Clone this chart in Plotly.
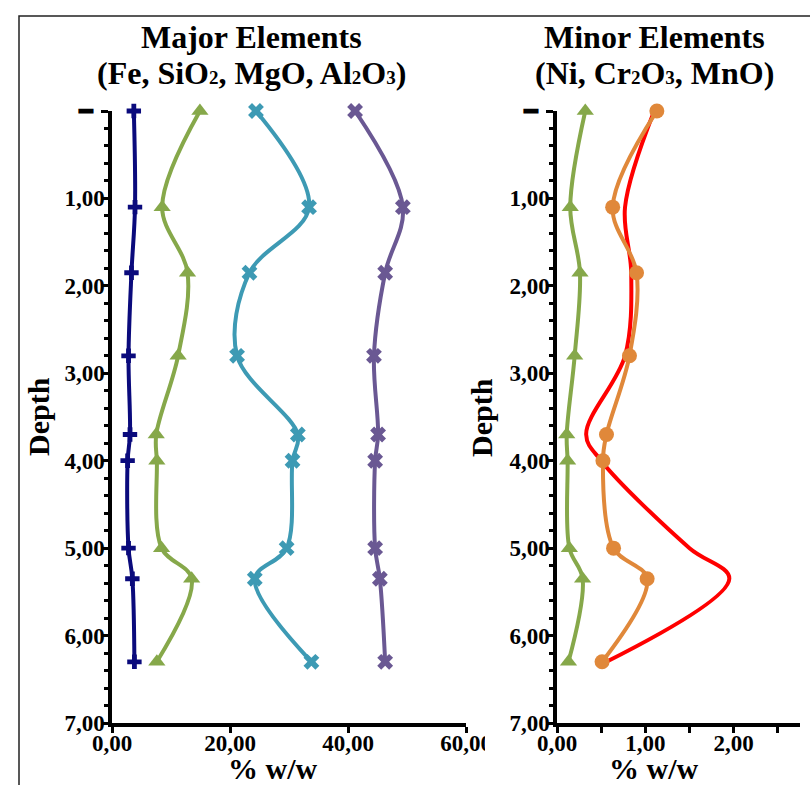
import plotly.graph_objects as go

# Sampling depths shared by every profile
depth = [0, 1.1, 1.85, 2.8, 3.7, 4.0, 5.0, 5.35, 6.3]

# Major elements (% w/w)
al2o3 = [3.7, 3.9, 3.3, 2.8, 3.05, 2.65, 2.8, 3.45, 3.8]
fe = [14.9, 8.5, 12.8, 11.2, 7.5, 7.6, 8.4, 13.5, 7.6]
mgo = [24.4, 33.4, 23.3, 21.2, 31.5, 30.6, 29.6, 24.2, 33.8]
sio2 = [41.2, 49.3, 46.3, 44.4, 45.1, 44.6, 44.6, 45.4, 46.3]

# Minor elements (% w/w)
mno = [0.32, 0.15, 0.26, 0.20, 0.11, 0.12, 0.14, 0.29, 0.13]
cr2o3 = [1.13, 0.63, 0.90, 0.82, 0.56, 0.52, 0.64, 1.02, 0.51]
ni = [1.1, 0.77, 0.84, 0.77, 0.33, 0.5, 1.5, 1.95, 0.56]

# Axis ticks and labels
depth_ticks = [0, 1, 2, 3, 4, 5, 6, 7]
depth_labels = ["\u2501\u00a0\u00a0", "1,00", "2,00", "3,00", "4,00", "5,00", "6,00", "7,00"]
major_ticks = [0, 20, 40, 60]
major_labels = ["0,00", "20,00", "40,00", "60,00"]
minor_ticks = [0, 1, 2]
minor_labels = ["0,00", "1,00", "2,00"]

W, H = 810, 785
FONT = "Liberation Serif"


def px_x(p):
    return p / W


def px_y(p):
    return 1 - p / H


NAVY = "#0a0a7c"
GREEN = "#86a84a"
TEAL = "#3d9ab4"
PURPLE = "#6a5893"
ORANGE = "#e0883a"
RED = "#ff0000"

fig = go.Figure()


def profile(x, color, symbol, size, xa, ya, mode="lines+markers"):
    fig.add_trace(go.Scatter(
        x=x, y=depth, xaxis=xa, yaxis=ya, mode=mode,
        line=dict(color=color, width=4, shape="spline", smoothing=1),
        marker=dict(symbol=symbol, size=size, color=color, line=dict(width=0)),
        showlegend=False, hoverinfo="skip", cliponaxis=False,
    ))


# Left panel: major elements
profile(al2o3, NAVY, "cross", 12, "x", "y")
profile(fe, GREEN, "triangle-up", 15, "x", "y")
profile(mgo, TEAL, "x", 14, "x", "y")
profile(sio2, PURPLE, "x", 14, "x", "y")

# Right panel: minor elements
profile(ni, RED, "circle", 1, "x2", "y2", mode="lines")
profile(mno, GREEN, "triangle-up", 15, "x2", "y2")
profile(cr2o3, ORANGE, "circle", 15, "x2", "y2")

tickfont = dict(family=FONT, size=23, color="black", weight="bold")
axis_common = dict(
    showline=True, linewidth=3.5, linecolor="black", showgrid=False,
    zeroline=False, ticks="outside", tickwidth=3, tickcolor="black",
    tickfont=tickfont, tickmode="array", automargin=False,
)
depth_minor = dict(tickmode="linear", tick0=0, dtick=0.2, ticks="outside",
                   ticklen=4, tickwidth=3, tickcolor="black")

y_dom = [px_y(723), px_y(111)]

fig.update_layout(
    width=W, height=H,
    margin=dict(l=0, r=0, t=0, b=0, pad=0, autoexpand=False),
    paper_bgcolor="white", plot_bgcolor="rgba(0,0,0,0)",
    xaxis=dict(axis_common, domain=[px_x(112), px_x(466)], range=[0, 60],
               anchor="y", tickvals=major_ticks, ticktext=major_labels,
               ticklen=6, ticklabelstandoff=-9),
    yaxis=dict(axis_common, domain=y_dom, range=[7, 0], anchor="x",
               tickvals=depth_ticks, ticktext=depth_labels, ticklen=7,
               ticklabelstandoff=-8, minor=depth_minor),
    xaxis2=dict(axis_common, domain=[px_x(557), px_x(800)], range=[0, 2.75],
                anchor="y2", tickvals=minor_ticks, ticktext=minor_labels,
                ticklen=6, ticklabelstandoff=-9,
                minor=dict(tickmode="linear", tick0=0, dtick=0.5, ticks="outside",
                           ticklen=6, tickwidth=3, tickcolor="black")),
    yaxis2=dict(axis_common, domain=y_dom, range=[7, 0], anchor="x2",
                tickvals=depth_ticks, ticktext=depth_labels, ticklen=7,
                ticklabelstandoff=-8, minor=depth_minor),
)

# Outer frame and the clipped edge of the left panel's last tick label
fig.add_shape(type="rect", xref="paper", yref="paper",
              x0=px_x(19), x1=px_x(830), y0=px_y(800), y1=px_y(16),
              line=dict(color="#222222", width=1.5), fillcolor="rgba(0,0,0,0)",
              layer="below")
fig.add_shape(type="rect", xref="paper", yref="paper",
              x0=px_x(485), x1=px_x(500), y0=px_y(762), y1=px_y(734),
              line=dict(width=0), fillcolor="white", layer="above")

title_font = dict(family=FONT, size=32, color="black", weight="bold")
label_font = dict(family=FONT, size=30, color="black", weight="bold")


def sub(d):
    return "<span style='font-size:19px'>" + d + "</span>"


texts = [
    ("Major Elements", 251, 37, title_font, 0),
    ("(Fe, SiO" + sub("2") + ", MgO, Al" + sub("2") + "O" + sub("3") + ")", 251, 73, title_font, 0),
    ("Minor Elements", 654, 37, title_font, 0),
    ("(Ni, Cr" + sub("2") + "O" + sub("3") + ", MnO)", 654, 73, title_font, 0),
    ("Depth", 38, 417, label_font, -90),
    ("Depth", 481, 417, label_font, -90),
    ("% w/w", 273, 768, label_font, 0),
    ("% w/w", 654, 768, label_font, 0),
]
for txt, x, y, f, ang in texts:
    fig.add_annotation(text=txt, x=px_x(x), y=px_y(y), xref="paper", yref="paper",
                       xanchor="center", yanchor="middle", showarrow=False,
                       font=f, textangle=ang)

fig.write_html("out.html")
